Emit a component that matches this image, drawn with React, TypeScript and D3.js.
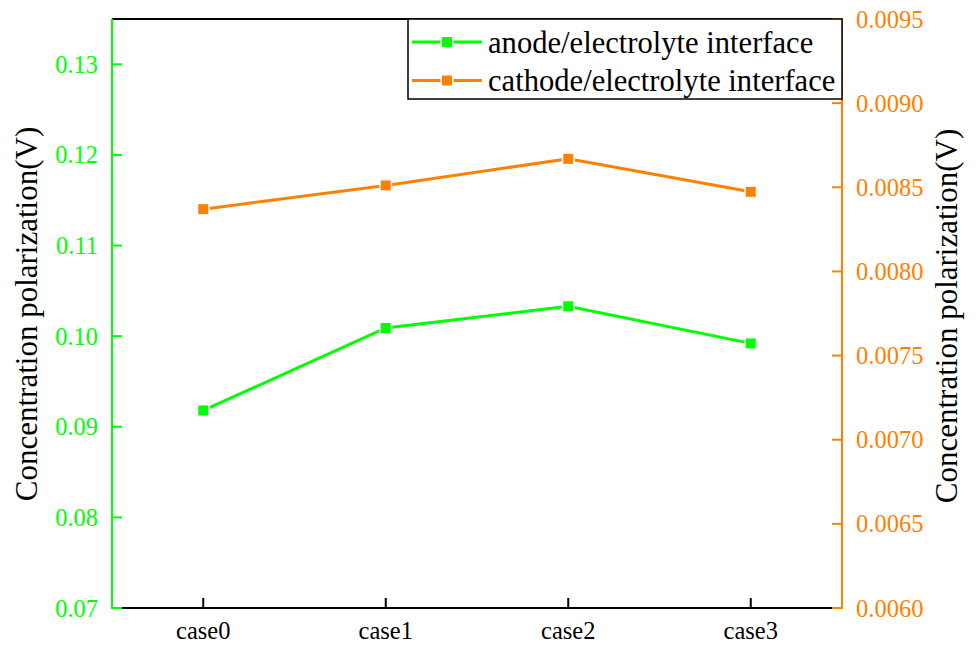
import React from "react";
import * as d3 from "d3";

const categories = ["case0", "case1", "case2", "case3"];
const anodeValues = [0.0918, 0.1009, 0.1033, 0.0992];
const cathodeValues = [0.00837, 0.008511, 0.008669, 0.008473];
const leftTicks = [0.07, 0.08, 0.09, 0.1, 0.11, 0.12, 0.13];
const rightTicks = [0.006, 0.0065, 0.007, 0.0075, 0.008, 0.0085, 0.009, 0.0095];
const seriesNames = ["anode/electrolyte interface", "cathode/electrolyte interface"];

const W = 979, H = 646;
const L = 112, R = 842, T = 19, B = 608;
const GREEN = "#00FF00", ORANGE = "#FF8000";
const FONT = "Liberation Serif, Times New Roman, Tinos, DejaVu Serif, serif";

export default function App() {
  const x = d3.scaleLinear().domain([-0.5, categories.length - 0.5]).range([L, R]);
  const yL = d3.scaleLinear().domain([0.07, 0.135]).range([B, T]);
  const yR = d3.scaleLinear().domain([0.006, 0.0095]).range([B, T]);
  const lineL = d3.line<number>().x((_, i) => x(i)).y((d) => yL(d));
  const lineR = d3.line<number>().x((_, i) => x(i)).y((d) => yR(d));
  const ms = 11.5;
  const marker = (cx: number, cy: number, color: string, key: string) => (
    <rect key={key} x={cx - ms / 2} y={cy - ms / 2} width={ms} height={ms} fill={color} stroke="#fff" strokeWidth={1.5} />
  );
  const ts = { fontFamily: FONT };
  return (
    <svg width={W} height={H} style={{ position: "absolute", left: 0, top: 0, display: "block", background: "#fff", fontFamily: FONT }}>
      <path d={lineL(anodeValues) || ""} fill="none" stroke={GREEN} strokeWidth={3} />
      <path d={lineR(cathodeValues) || ""} fill="none" stroke={ORANGE} strokeWidth={3} />
      {anodeValues.map((v, i) => marker(x(i), yL(v), GREEN, "a" + i))}
      {cathodeValues.map((v, i) => marker(x(i), yR(v), ORANGE, "c" + i))}
      <line x1={L} x2={R} y1={T} y2={T} stroke="#000" strokeWidth={2} />
      <line x1={L} x2={R} y1={B} y2={B} stroke="#000" strokeWidth={2} />
      <line x1={L} x2={L} y1={T} y2={B + 1} stroke={GREEN} strokeWidth={2} />
      <line x1={R} x2={R} y1={T - 1} y2={B + 1} stroke={ORANGE} strokeWidth={2} />
      {categories.map((c, i) => (
        <g key={c}>
          <line x1={x(i)} x2={x(i)} y1={B} y2={B - 10} stroke="#000" strokeWidth={2} />
          <text style={ts} x={x(i)} y={639} textAnchor="middle" fontSize={24.5} fill="#000">{c}</text>
        </g>
      ))}
      {leftTicks.map((t) => (
        <g key={"l" + t}>
          <line x1={L} x2={L + 10} y1={yL(t)} y2={yL(t)} stroke={GREEN} strokeWidth={2} />
          <text style={ts} x={98} y={yL(t)} dy="0.35em" textAnchor="end" fontSize={24.5} fill={GREEN}>{d3.format(".2f")(t)}</text>
        </g>
      ))}
      {rightTicks.map((t) => (
        <g key={"r" + t}>
          <line x1={R} x2={R - 10} y1={yR(t)} y2={yR(t)} stroke={ORANGE} strokeWidth={2} />
          <text style={ts} x={856} y={yR(t)} dy="0.35em" textAnchor="start" fontSize={24.5} fill={ORANGE}>{d3.format(".4f")(t)}</text>
        </g>
      ))}
      <text style={ts} transform={`translate(37,314) rotate(-90)`} textAnchor="middle" fontSize={31} fill="#000">Concentration polarization(V)</text>
      <text style={ts} transform={`translate(957,316) rotate(-90)`} textAnchor="middle" fontSize={31} fill="#000">Concentration polarization(V)</text>
      <rect x={408} y={19} width={R - 408} height={80} fill="#fff" stroke="#000" strokeWidth={1.5} />
      {seriesNames.map((n, i) => {
        const cy = 42 + i * 38.5;
        const col = i === 0 ? GREEN : ORANGE;
        return (
          <g key={n}>
            <line x1={412} x2={482} y1={cy} y2={cy} stroke={col} strokeWidth={3} />
            {marker(447, cy, col, "lm" + i)}
            <text style={ts} x={488} y={cy} dy="0.35em" fontSize={30.6} fill="#000">{n}</text>
          </g>
        );
      })}
    </svg>
  );
}
